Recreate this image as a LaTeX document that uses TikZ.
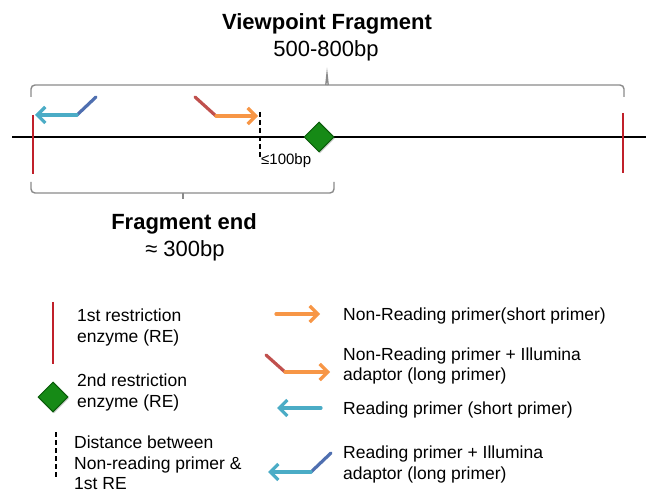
\documentclass[tikz,border=0pt]{standalone}
\usepackage{fontspec}
\setmainfont{Liberation Sans}
\usetikzlibrary{arrows.meta,shapes.geometric,shadows}
\definecolor{rered}{HTML}{C0202A}
\definecolor{brgray}{HTML}{8A8A8A}
\definecolor{nrorange}{HTML}{F79646}
\definecolor{adred}{HTML}{C0504D}
\definecolor{rdcyan}{HTML}{4BACC6}
\definecolor{adblue}{HTML}{4F6FB0}
\definecolor{dgreen}{HTML}{168A16}
\definecolor{dgreenb}{HTML}{0B5A0B}
\newcommand\titlefont{\fontsize{22}{26}\selectfont\bfseries}
\newcommand\subfont{\fontsize{22}{26}\selectfont}
\newcommand\legfont{\fontsize{17.5}{21}\selectfont}
\newcommand\smallfnt{\fontsize{15}{17}\selectfont}
\tikzset{
  dnaline/.style={line width=2pt, black},
  relines/.style={line width=2pt, rered},
  bracestyle/.style={line width=1.4pt, brgray, rounded corners=4pt},
  dashmark/.style={line width=2pt, black, dash pattern=on 5pt off 3pt},
  primer/.style={line width=3.2pt, line cap=round, line join=round},
  tipped/.style={primer, -{Straight Barb[length=8pt,width=16pt]}},
  greendiamond/.style={diamond, draw=dgreenb, fill=dgreen, line width=1pt, minimum width=30pt, minimum height=30pt, inner sep=0pt, drop shadow={shadow xshift=1pt, shadow yshift=-1.5pt, opacity=0.35}},
  lt/.style={anchor=base west, inner sep=0pt, font=\legfont},
}
\begin{document}
\begin{tikzpicture}[x=1pt,y=-1pt]
\useasboundingbox (0,0) rectangle (648,494);
% titles
\node[anchor=base, inner sep=0pt, font=\titlefont] (vt) at (327,30) {Viewpoint Fragment};
\node[anchor=base, inner sep=0pt, font=\subfont] (vs) at (326,57) {500-800bp};
\node[anchor=base, inner sep=0pt, font=\titlefont] (ft) at (184,230) {Fragment end};
\node[anchor=base, inner sep=0pt, font=\subfont] (fs) at (185,257) {≈ 300bp};
% top brace
\draw[bracestyle] (31,97) -- (31,85) -- (327,85);
\draw[bracestyle] (327,85) -- (624,85) -- (624,97);
\draw[line width=1.4pt, brgray, line join=miter] (325.8,85) -- (327,74) -- (328.2,85);
% bottom brace
\draw[bracestyle] (31,182) -- (31,193) -- (183,193);
\draw[bracestyle] (183,193) -- (334,193) -- (334,182);
\draw[line width=1.4pt, brgray] (183,193) -- (183,199);
% main DNA line
\coordinate (dl) at (12,137);
\coordinate (dr) at (646,137);
\draw[dnaline] (dl) -- (dr);
% restriction sites
\coordinate (re1t) at (33,115); \coordinate (re1b) at (33,174);
\coordinate (re2t) at (623,113); \coordinate (re2b) at (623,173);
\draw[relines] (re1t) -- (re1b);
\draw[relines] (re2t) -- (re2b);
% dashed distance mark
\coordinate (dt) at (260,112); \coordinate (db) at (260,157);
\draw[dashmark] (dt) -- (db);
\node[anchor=base west, inner sep=0pt, font=\smallfnt] (lt100) at (261,165) {≤100bp};
% second RE diamond
\node[greendiamond] (re2nd) at (319,137) {};
% reading long primer (top)
\coordinate (ra) at (96,97); \coordinate (rb) at (77,115); \coordinate (rc) at (35,115);
\draw[primer, adblue] (ra) -- (rb);
\draw[tipped, rdcyan] (rb) -- (rc);
% non-reading long primer (top)
\coordinate (na) at (195,97); \coordinate (nb) at (216,116); \coordinate (nc) at (258,116);
\draw[primer, adred] (na) -- (nb);
\draw[tipped, nrorange] (nb) -- (nc);
% legend left
\coordinate (l1t) at (53,302); \coordinate (l1b) at (53,364);
\draw[relines] (l1t) -- (l1b);
\node[lt] (l1a) at (77,322) {1st restriction};
\node[lt] (l1c) at (77,343) {enzyme (RE)};
\node[greendiamond] (l2d) at (53,397) {};
\node[lt] (l2a) at (77,386) {2nd restriction};
\node[lt] (l2c) at (77,407) {enzyme (RE)};
\coordinate (l3t) at (56,432); \coordinate (l3b) at (56,477);
\draw[dashmark] (l3t) -- (l3b);
\node[lt] (l3a) at (74,448) {Distance between};
\node[lt] (l3c) at (74,469) {Non-reading primer \&};
\node[lt] (l3e) at (74,489) {1st RE};
% legend right
\coordinate (r1a) at (276,314); \coordinate (r1b) at (320,314);
\draw[tipped, nrorange] (r1a) -- (r1b);
\node[lt] (r1t) at (343,320) {Non-Reading primer(short primer)};
\coordinate (r2a) at (266,355); \coordinate (r2b) at (285,372); \coordinate (r2c) at (330,372);
\draw[primer, adred] (r2a) -- (r2b);
\draw[tipped, nrorange] (r2b) -- (r2c);
\node[lt] (r2t) at (343,360) {Non-Reading primer + Illumina};
\node[lt] (r2u) at (343,381) {adaptor (long primer)};
\coordinate (r3a) at (321,408); \coordinate (r3b) at (277,408);
\draw[tipped, rdcyan] (r3a) -- (r3b);
\node[lt] (r3t) at (343,414) {Reading primer (short primer)};
\coordinate (r4a) at (331,453); \coordinate (r4b) at (311,472); \coordinate (r4c) at (268,472);
\draw[primer, adblue] (r4a) -- (r4b);
\draw[tipped, rdcyan] (r4b) -- (r4c);
\node[lt] (r4t) at (343,458) {Reading primer + Illumina};
\node[lt] (r4u) at (343,479) {adaptor (long primer)};
\end{tikzpicture}
\end{document}
